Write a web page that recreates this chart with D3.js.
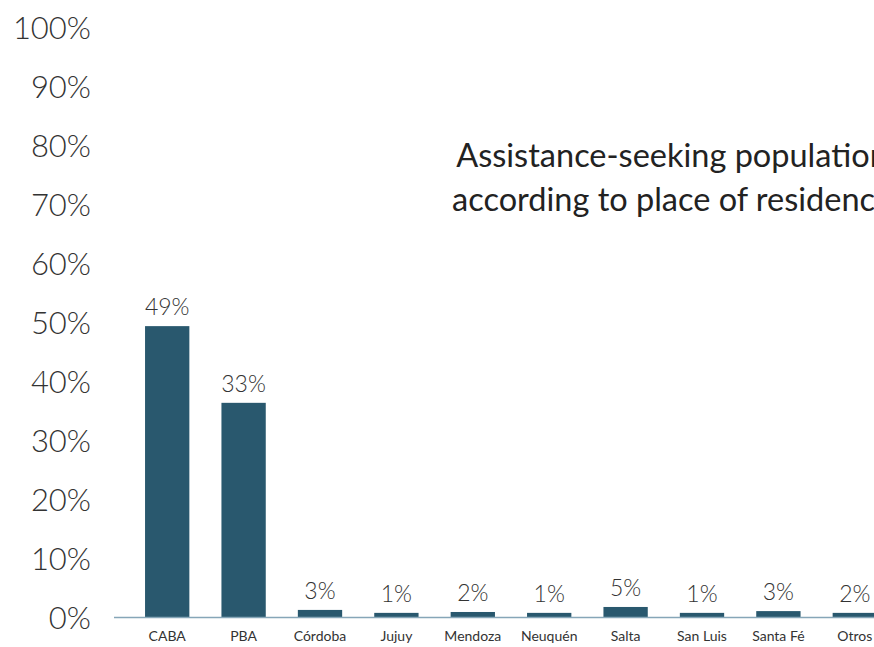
<!DOCTYPE html>
<html>
<head>
<meta charset="utf-8">
<script src="https://cdn.jsdelivr.net/npm/d3@7"></script>
<style>
  body { margin: 0; background: #fff; }
  svg { display: block; }
</style>
</head>
<body>
<script>
// categories and values
var places = ["CABA", "PBA", "Córdoba", "Jujuy", "Mendoza", "Neuquén", "Salta", "San Luis", "Santa Fé", "Otros"];
// printed labels on the bars
var labels = ["49%", "33%", "3%", "1%", "2%", "1%", "5%", "1%", "3%", "2%"];
// bar heights as drawn, in axis units (%)
var barValues = [49.3, 36.3, 1.2, 0.7, 0.85, 0.7, 1.7, 0.7, 1.0, 0.7];
var yTicks = [0, 10, 20, 30, 40, 50, 60, 70, 80, 90, 100];
var titleLines = ["Assistance-seeking population", "according to place of residence"];

var w = 874;
var h = 647;

var svg = d3.select("body")
    .append("svg")
    .attr("width", w)
    .attr("height", h);

var x = d3.scaleBand()
    .domain(places)
    .range([129, 893])
    .paddingInner(0.42)
    .paddingOuter(0.21);

var y = d3.scaleLinear()
    .domain([0, 100])
    .range([617, 27]);

// y tick labels (no axis line)
svg.selectAll("text.ytick")
   .data(yTicks)
   .enter()
   .append("text")
   .attr("class", "ytick")
   .text(function(d) { return d + "%"; })
   .attr("x", 91)
   .attr("y", function(d) { return y(d) + 12; })
   .attr("text-anchor", "end")
   .attr("font-family", "Lato, 'Open Sans', sans-serif")
   .attr("font-weight", 300)
   .attr("font-size", "31px")
   .attr("fill", "#333");

// title (runs off the right edge, as in the original)
svg.selectAll("text.title")
   .data(titleLines)
   .enter()
   .append("text")
   .attr("class", "title")
   .text(function(d) { return d; })
   .attr("x", 672)
   .attr("y", function(d, i) { return 167 + i * 44; })
   .attr("text-anchor", "middle")
   .attr("font-family", "Lato, sans-serif")
   .attr("font-size", "32.5px")
   .attr("fill", "#222");

// bars
svg.selectAll("rect.bar")
   .data(barValues)
   .enter()
   .append("rect")
   .attr("class", "bar")
   .attr("x", function(d, i) { return x(places[i]); })
   .attr("y", function(d) { return y(d); })
   .attr("width", x.bandwidth())
   .attr("height", function(d) { return y(0) - y(d); })
   .attr("fill", "#29586e");

// baseline
svg.append("line")
   .attr("x1", 114)
   .attr("x2", w)
   .attr("y1", y(0) + 0.5)
   .attr("y2", y(0) + 0.5)
   .attr("stroke", "#86a6b8")
   .attr("stroke-width", 1.5);

// value labels
svg.selectAll("text.val")
   .data(barValues)
   .enter()
   .append("text")
   .attr("class", "val")
   .text(function(d, i) { return labels[i]; })
   .attr("x", function(d, i) { return x(places[i]) + x.bandwidth() / 2; })
   .attr("y", function(d) { return y(d) - 11; })
   .attr("text-anchor", "middle")
   .attr("font-family", "Lato, 'Open Sans', sans-serif")
   .attr("font-weight", 300)
   .attr("font-size", "23px")
   .attr("fill", "#333");

// category labels
var xAxis = svg.append("g")
    .attr("transform", "translate(0," + (y(0) + 8) + ")")
    .call(d3.axisBottom(x).tickSize(0).tickPadding(6));

xAxis.select(".domain").remove();
xAxis.selectAll("text")
   .attr("font-family", "Lato, sans-serif")
   .attr("font-size", "14px")
   .attr("fill", "#333");
</script>
</body>
</html>
